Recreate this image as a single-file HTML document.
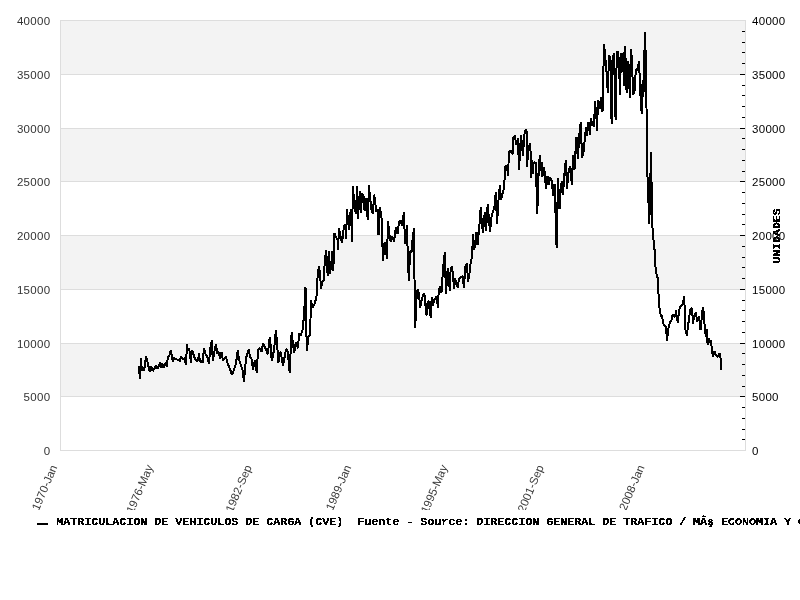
<!DOCTYPE html>
<html><head><meta charset="utf-8"><style>
html,body{margin:0;padding:0;background:#fff;width:800px;height:600px;overflow:hidden}
svg{display:block}
</style></head><body>
<svg width="800" height="600" viewBox="0 0 800 600">
<rect x="0" y="0" width="800" height="600" fill="#fff"/>

<rect x="60" y="20" width="685" height="54" fill="#f3f3f3"/>
<rect x="60" y="128" width="685" height="53" fill="#f3f3f3"/>
<rect x="60" y="235" width="685" height="54" fill="#f3f3f3"/>
<rect x="60" y="343" width="685" height="53" fill="#f3f3f3"/>
<rect x="60" y="396" width="685" height="1" fill="#dddddd"/>
<rect x="60" y="343" width="685" height="1" fill="#dddddd"/>
<rect x="60" y="289" width="685" height="1" fill="#dddddd"/>
<rect x="60" y="235" width="685" height="1" fill="#dddddd"/>
<rect x="60" y="181" width="685" height="1" fill="#dddddd"/>
<rect x="60" y="128" width="685" height="1" fill="#dddddd"/>
<rect x="60" y="74" width="685" height="1" fill="#dddddd"/>
<rect x="60" y="20" width="686" height="1" fill="#dddddd"/>
<rect x="60" y="450" width="686" height="1" fill="#dddddd"/>
<rect x="60" y="20" width="1" height="431" fill="#dddddd"/>
<rect x="745" y="20" width="1" height="431" fill="#dddddd"/>
<rect x="742" y="439" width="3" height="1" fill="#000"/>
<rect x="742" y="429" width="3" height="1" fill="#000"/>
<rect x="742" y="418" width="3" height="1" fill="#000"/>
<rect x="742" y="407" width="3" height="1" fill="#000"/>
<rect x="740" y="396" width="5" height="1" fill="#000"/>
<rect x="742" y="386" width="3" height="1" fill="#000"/>
<rect x="742" y="375" width="3" height="1" fill="#000"/>
<rect x="742" y="364" width="3" height="1" fill="#000"/>
<rect x="742" y="353" width="3" height="1" fill="#000"/>
<rect x="740" y="343" width="5" height="1" fill="#000"/>
<rect x="742" y="332" width="3" height="1" fill="#000"/>
<rect x="742" y="321" width="3" height="1" fill="#000"/>
<rect x="742" y="310" width="3" height="1" fill="#000"/>
<rect x="742" y="300" width="3" height="1" fill="#000"/>
<rect x="740" y="289" width="5" height="1" fill="#000"/>
<rect x="742" y="278" width="3" height="1" fill="#000"/>
<rect x="742" y="267" width="3" height="1" fill="#000"/>
<rect x="742" y="257" width="3" height="1" fill="#000"/>
<rect x="742" y="246" width="3" height="1" fill="#000"/>
<rect x="740" y="235" width="5" height="1" fill="#000"/>
<rect x="742" y="224" width="3" height="1" fill="#000"/>
<rect x="742" y="214" width="3" height="1" fill="#000"/>
<rect x="742" y="203" width="3" height="1" fill="#000"/>
<rect x="742" y="192" width="3" height="1" fill="#000"/>
<rect x="740" y="181" width="5" height="1" fill="#000"/>
<rect x="742" y="171" width="3" height="1" fill="#000"/>
<rect x="742" y="160" width="3" height="1" fill="#000"/>
<rect x="742" y="149" width="3" height="1" fill="#000"/>
<rect x="742" y="138" width="3" height="1" fill="#000"/>
<rect x="740" y="128" width="5" height="1" fill="#000"/>
<rect x="742" y="117" width="3" height="1" fill="#000"/>
<rect x="742" y="106" width="3" height="1" fill="#000"/>
<rect x="742" y="95" width="3" height="1" fill="#000"/>
<rect x="742" y="85" width="3" height="1" fill="#000"/>
<rect x="740" y="74" width="5" height="1" fill="#000"/>
<rect x="742" y="63" width="3" height="1" fill="#000"/>
<rect x="742" y="52" width="3" height="1" fill="#000"/>
<rect x="742" y="42" width="3" height="1" fill="#000"/>
<rect x="742" y="31" width="3" height="1" fill="#000"/>
<g filter="url(#gray)" font-family="Liberation Sans, sans-serif" font-size="11.5" letter-spacing="0.3">
<text x="50.4" y="455.00" text-anchor="end" fill="#333">0</text>
<text x="752" y="455.00" fill="#000">0</text>
<text x="50.4" y="401.00" text-anchor="end" fill="#333">5000</text>
<text x="752" y="401.00" fill="#000">5000</text>
<text x="50.4" y="348.00" text-anchor="end" fill="#333">10000</text>
<text x="752" y="348.00" fill="#000">10000</text>
<text x="50.4" y="294.00" text-anchor="end" fill="#333">15000</text>
<text x="752" y="294.00" fill="#000">15000</text>
<text x="50.4" y="240.00" text-anchor="end" fill="#333">20000</text>
<text x="752" y="240.00" fill="#000">20000</text>
<text x="50.4" y="186.00" text-anchor="end" fill="#333">25000</text>
<text x="752" y="186.00" fill="#000">25000</text>
<text x="50.4" y="133.00" text-anchor="end" fill="#333">30000</text>
<text x="752" y="133.00" fill="#000">30000</text>
<text x="50.4" y="79.00" text-anchor="end" fill="#333">35000</text>
<text x="752" y="79.00" fill="#000">35000</text>
<text x="50.4" y="25.00" text-anchor="end" fill="#333">40000</text>
<text x="752" y="25.00" fill="#000">40000</text>
</g>
<defs><filter id="crisp" x="0" y="0" width="1" height="1" filterUnits="objectBoundingBox"><feComponentTransfer><feFuncA type="discrete" tableValues="0 1 1"/></feComponentTransfer></filter><filter id="gray"><feOffset dx="0" dy="0"/></filter><clipPath id="xc"><rect x="0" y="452" width="800" height="58"/></clipPath></defs>
<g clip-path="url(#xc)"><g filter="url(#gray)" font-family="Liberation Sans, sans-serif" font-size="11.5" fill="#3c3c3c">
<text transform="translate(57.5,467) rotate(-67)" text-anchor="end" letter-spacing="0">1970-Jan</text>
<text transform="translate(153.3,467) rotate(-67)" text-anchor="end" letter-spacing="0">1976-May</text>
<text transform="translate(252.1,467) rotate(-67)" text-anchor="end" letter-spacing="0">1982-Sep</text>
<text transform="translate(351.4,467) rotate(-67)" text-anchor="end" letter-spacing="0">1989-Jan</text>
<text transform="translate(447.7,467) rotate(-67)" text-anchor="end" letter-spacing="0">1995-May</text>
<text transform="translate(544.0,467) rotate(-67)" text-anchor="end" letter-spacing="0">2001-Sep</text>
<text transform="translate(644.8,467) rotate(-67)" text-anchor="end" letter-spacing="0">2008-Jan</text>
</g></g>
<text filter="url(#crisp)" transform="translate(780,236) rotate(-90)" text-anchor="middle" font-family="Liberation Mono, monospace" font-weight="bold" font-size="11.5" fill="#000">UNIDADES</text>
<rect x="37" y="523" width="11" height="2" fill="#000"/>
<text x="56.2" y="525" filter="url(#crisp)" font-family="Liberation Mono, monospace" font-weight="bold" font-size="11.8" letter-spacing="-0.08" fill="#000" xml:space="preserve">MATRICULACION DE VEHICULOS DE CARGA (CVE)  Fuente - Source: DIRECCION GENERAL DE TRAFICO / M&#194;&#351; ECONOMIA Y COMPETITIVIDAD</text>
<polyline points="139.1,366.3 139.2,372.0 140.2,379.2 141.0,358.5 141.8,371.0 142.8,367.0 144.2,371.0 145.0,364.0 146.0,356.4 147.0,359.0 148.0,364.6 149.8,371.6 151.0,365.8 152.7,371.0 154.5,368.5 155.8,365.5 157.5,368.5 159.0,366.0 160.0,361.8 161.0,367.5 162.2,363.0 163.5,368.0 165.0,364.5 165.8,362.0 167.0,367.0 167.8,357.0 169.5,355.0 170.8,350.5 171.8,356.0 173.0,362.0 174.0,357.5 175.5,359.0 177.0,359.5 179.0,360.5 179.8,361.5 181.0,356.0 182.0,358.0 183.0,359.5 184.5,358.0 186.0,365.0 187.0,344.5 187.8,350.0 189.0,348.5 190.0,354.0 191.0,363.0 191.8,351.0 193.0,351.5 194.0,356.0 195.5,360.0 197.0,361.0 198.0,360.0 199.0,353.5 200.0,362.0 201.5,361.0 202.5,363.0 204.0,348.5 205.5,354.0 207.0,356.0 209.0,364.0 210.0,350.0 211.8,340.5 212.8,361.0 214.5,351.0 216.0,344.5 217.5,354.0 219.0,352.0 220.0,359.0 221.5,352.5 223.0,360.5 224.5,358.0 226.0,356.5 227.5,363.0 230.0,369.0 232.0,375.0 234.0,370.0 236.0,363.0 237.8,350.5 239.0,360.0 241.0,365.0 242.5,370.0 244.0,382.0 244.8,372.0 246.0,359.0 247.0,354.0 248.8,349.5 250.0,357.0 251.5,359.0 253.0,370.0 254.8,360.0 256.8,373.0 258.0,350.0 260.0,348.0 261.5,351.5 263.0,343.5 264.5,346.5 265.0,347.5 267.9,354.2 269.2,340.8 270.0,336.7 271.7,360.8 273.3,354.2 275.0,341.7 275.8,330.0 277.1,342.5 278.3,363.3 280.4,351.7 281.7,357.5 282.9,365.8 285.0,355.0 286.2,348.8 287.9,352.5 289.6,372.5 290.4,356.7 291.7,331.7 292.9,344.2 294.2,352.5 295.8,342.5 297.9,348.3 299.2,333.3 300.8,335.8 302.5,330.0 304.0,316.0 305.3,290.0 305.5,287.5 306.8,351.0 308.5,336.5 310.0,335.0 310.5,319.0 311.0,300.0 312.5,308.0 315.0,303.0 316.7,295.0 317.7,274.3 319.0,266.0 320.3,277.0 321.0,289.0 322.3,281.7 323.7,280.3 324.7,263.0 326.0,249.7 327.7,276.3 328.7,251.0 330.0,274.3 331.3,263.7 332.3,251.0 333.3,271.0 334.5,233.5 336.0,237.0 337.5,240.0 338.0,250.0 339.0,228.5 340.5,236.0 342.0,243.0 344.0,226.0 345.5,224.5 346.0,239.0 347.0,209.5 348.0,220.0 349.0,230.0 350.0,215.0 351.0,209.5 352.0,241.5 352.5,210.0 353.0,186.5 354.5,207.0 356.0,214.0 357.0,186.5 358.0,219.0 359.0,202.0 360.0,191.0 361.0,213.0 362.0,193.0 363.5,196.0 364.6,211.0 366.0,198.0 367.0,213.0 368.0,220.0 368.8,185.4 370.0,197.0 371.7,211.7 373.0,214.0 374.0,194.6 375.4,202.0 375.8,211.7 377.5,208.8 378.5,235.0 380.0,207.0 381.5,218.0 383.0,260.8 384.6,241.7 385.4,246.7 387.0,259.0 388.0,220.8 389.6,235.8 390.8,242.0 392.0,235.8 394.0,241.7 395.8,227.5 397.5,234.0 399.0,221.7 400.5,220.0 402.0,226.0 403.0,217.0 404.0,212.5 405.0,244.0 407.0,225.5 408.0,265.0 409.0,281.0 410.0,251.0 411.5,252.0 412.5,240.0 414.0,228.5 415.0,328.3 416.2,311.7 416.7,291.7 417.9,289.6 419.2,295.0 420.0,308.3 421.7,300.0 423.3,294.2 424.2,293.8 425.0,296.7 425.8,310.8 426.7,315.4 427.5,303.3 428.8,300.8 429.6,310.0 430.8,318.3 431.7,296.7 432.9,305.8 434.2,300.0 435.8,297.5 436.7,296.7 437.9,307.5 438.5,295.0 439.8,285.8 441.4,293.3 442.7,274.2 443.9,260.0 444.8,252.5 446.0,294.2 447.7,268.3 448.5,275.0 449.8,290.8 450.6,269.2 451.8,266.2 453.1,274.2 453.9,289.2 455.2,278.3 456.4,285.0 457.7,287.5 458.9,279.6 460.6,277.1 462.7,276.2 463.9,288.3 465.2,267.5 466.8,263.3 468.1,281.7 469.8,270.8 471.0,260.0 472.0,258.0 473.0,234.5 474.0,250.0 475.0,245.0 476.5,232.0 477.5,245.0 479.8,221.3 480.7,207.3 482.0,225.0 483.0,233.0 484.8,212.0 486.0,231.2 487.7,203.8 489.0,220.0 490.0,231.8 491.8,214.3 493.0,212.0 494.7,205.0 495.8,192.2 497.0,224.2 498.8,195.0 500.0,185.2 501.0,200.3 502.2,195.0 503.4,191.0 504.5,180.0 505.5,166.0 507.0,167.0 508.0,175.5 509.0,152.0 510.5,150.0 511.5,153.0 513.0,154.0 513.5,137.0 515.0,135.5 516.0,145.0 518.0,138.5 519.0,170.0 520.0,152.0 521.0,135.5 522.0,145.0 523.0,156.0 524.0,138.5 525.0,130.5 526.5,129.5 527.0,167.0 528.5,148.0 530.0,143.5 531.0,158.0 531.0,178.0 532.0,160.0 532.5,174.0 532.5,168.0 534.0,162.0 536.0,163.0 536.0,187.0 537.0,173.0 537.0,213.5 538.0,200.0 538.5,177.0 539.0,159.0 539.5,165.0 540.0,155.5 541.0,171.0 541.5,162.0 542.0,177.0 543.0,174.0 544.0,167.5 544.0,167.5 545.0,175.0 545.5,183.0 546.0,189.0 547.5,176.0 549.0,185.0 550.0,177.0 552.0,181.0 553.0,196.0 554.5,184.0 555.5,213.0 556.6,247.7 558.0,178.5 559.5,209.0 561.0,185.0 561.8,181.5 562.9,195.0 564.8,169.5 565.9,160.0 567.0,189.0 568.5,172.5 570.0,166.5 571.9,184.5 573.0,155.2 574.5,169.5 575.5,151.5 576.5,137.0 577.8,159.0 579.3,135.5 580.8,122.0 582.0,158.2 583.5,152.0 585.0,136.5 586.0,127.5 587.0,135.5 588.5,122.5 590.0,134.5 591.0,118.5 592.0,123.0 594.0,127.0 594.5,114.0 595.0,101.0 596.5,119.0 597.0,130.5 598.0,100.0 599.5,109.0 601.0,97.5 602.5,112.0 604.0,44.5 605.0,54.0 606.5,72.0 607.8,93.0 609.0,55.5 610.5,59.0 611.6,124.0 612.8,58.0 614.0,53.0 615.6,120.0 616.8,52.5 618.0,51.5 619.0,63.0 620.0,94.5 621.0,54.0 622.0,53.5 623.2,63.0 624.0,86.0 624.6,46.5 625.6,59.0 626.6,93.0 627.6,69.0 628.4,61.5 629.9,98.3 631.0,49.5 632.0,61.0 633.1,95.0 634.8,89.7 635.8,69.0 637.0,71.0 638.0,66.0 639.0,61.5 640.7,100.5 641.8,114.0 642.6,80.0 643.4,97.2 644.2,62.0 645.0,32.5 646.0,67.0 647.3,172.0 649.3,224.0 651.0,152.0 652.3,226.0 653.7,242.0 655.0,254.0 655.7,271.3 657.7,278.0 658.3,291.3 659.5,308.0 661.0,317.0 662.0,315.0 663.0,323.0 664.0,325.0 666.0,327.0 667.0,341.0 668.0,332.0 669.0,325.0 670.5,321.5 671.5,320.0 672.0,315.5 673.5,315.0 675.0,317.0 676.0,310.5 677.0,319.0 678.0,323.0 679.0,310.0 680.0,307.5 681.5,305.5 683.0,303.0 684.0,296.5 685.0,313.0 685.5,330.0 687.0,336.0 688.0,325.0 689.0,320.0 690.0,309.5 692.0,308.0 693.0,324.0 694.0,316.0 696.0,312.5 697.0,322.0 698.0,319.0 699.0,316.5 700.5,330.0 702.8,307.5 704.0,313.3 704.6,326.0 705.8,336.7 706.8,329.0 707.6,345.0 708.7,338.3 709.6,342.5 710.8,340.0 712.0,350.0 713.0,357.0 714.3,351.0 716.0,355.0 718.0,357.0 719.8,353.0 721.0,361.0 721.0,370.0" fill="none" stroke="#000" stroke-width="2" stroke-linejoin="miter" stroke-miterlimit="1" shape-rendering="crispEdges"/>
</svg></body></html>
